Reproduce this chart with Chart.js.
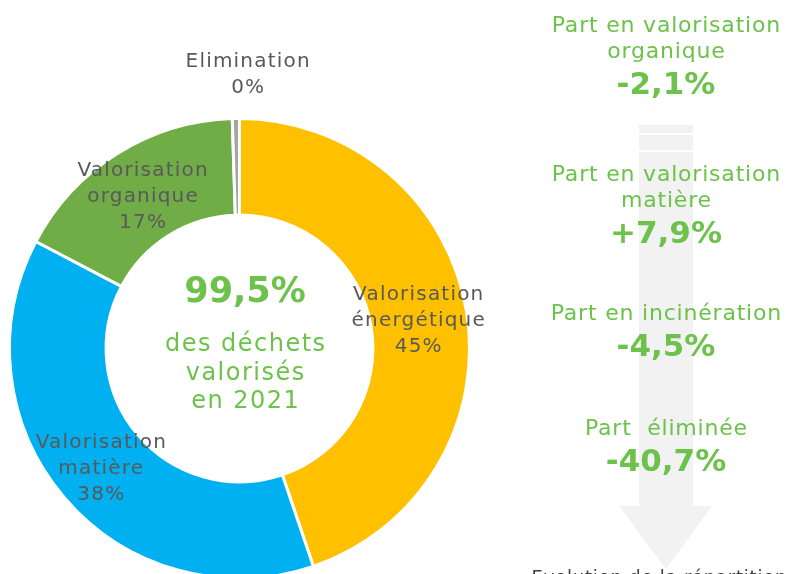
<!DOCTYPE html>
<html lang="fr">
<head>
<meta charset="utf-8">
<script src="https://cdn.jsdelivr.net/npm/chart.js@4.4.1/dist/chart.umd.min.js"></script>
<style>
  html, body { margin: 0; padding: 0; background: #fff; }
  body { width: 788px; height: 574px; position: relative; overflow: hidden; font-family: "DejaVu Sans", sans-serif; }
  #chart { position: absolute; left: 0; top: 0; }
  .t { position: absolute; transform: translateX(-50%); white-space: pre; text-align: center; color: #6cc24a; }
  .big { font-weight: 700; }
</style>
</head>
<body>
<!-- canvas a bit taller than the page : the ring is cut by the bottom edge -->
<canvas id="chart" width="788" height="600"></canvas>
<div id="texts"></div>
<script>
// slices, clockwise from 12 o'clock
const categories = ['Valorisation énergétique', 'Valorisation matière', 'Valorisation organique', 'Elimination'];
const labelLines = [['Valorisation', 'énergétique'], ['Valorisation', 'matière'], ['Valorisation', 'organique'], ['Elimination']];
const shares = [44.8, 37.9, 16.8, 0.5];
const shareLabels = ['45%', '38%', '17%', '0%'];
const sliceColors = ['#ffc000', '#00b0f0', '#70ad47', '#a5a5a5'];

// centre of the ring
const centerLines = ['99,5%', 'des déchets', 'valorisés', 'en 2021'];

// right column : evolution of each share
const evoTitles = [['Part en valorisation', 'organique'], ['Part en valorisation', 'matière'], ['Part en incinération'], ['Part  éliminée']];
const evoValues = ['-2,1%', '+7,9%', '-4,5%', '-40,7%'];
const arrowCaption = 'Evolution de la répartition';

const LABEL_FONT = '20px "DejaVu Sans", sans-serif';
const LABEL_COLOR = '#595959';

// --- html text (centre + right column) ---
const box = document.getElementById('texts');
function addText(str, cx, cy, size, opts) {
    opts = opts || {};
    const d = document.createElement('div');
    d.className = 't' + (opts.bold ? ' big' : '');
    d.textContent = str;
    const lh = Math.round(size * 1.2);
    const sp = opts.spacing || 0;
    d.style.left = (cx + sp / 2) + 'px';
    d.style.top = (cy - lh / 2) + 'px';
    d.style.fontSize = size + 'px';
    d.style.lineHeight = lh + 'px';
    d.style.letterSpacing = sp + 'px';
    if (opts.color) d.style.color = opts.color;
    box.appendChild(d);
}

addText(centerLines[0], 245, 290, 35, { bold: true });
addText(centerLines[1], 245, 343, 24, { spacing: 1.5 });
addText(centerLines[2], 245, 372, 24, { spacing: 1.5 });
addText(centerLines[3], 245, 400, 24, { spacing: 1.5 });

const blockTops = [25, 174, 313, 428];
evoTitles.forEach((lines, i) => {
    let y = blockTops[i];
    lines.forEach(l => { addText(l, 666, y, 22, { spacing: 0.8 }); y += 26; });
    addText(evoValues[i], 666, y + 6, 31, { bold: true });
});
addText(arrowCaption, 659, 577, 18, { color: '#404040', spacing: 0.8 });

// --- background arrow behind the right column ---
const arrowPlugin = {
    id: 'arrow',
    beforeDraw(chart) {
        const ctx = chart.ctx;
        ctx.save();
        ctx.fillStyle = '#f2f2f2';
        // striped tail
        ctx.fillRect(639, 125, 54, 8);
        ctx.fillRect(639, 135, 54, 15);
        ctx.fillRect(639, 152, 54, 354);
        // head
        ctx.beginPath();
        ctx.moveTo(619, 506);
        ctx.lineTo(712, 506);
        ctx.lineTo(666, 569);
        ctx.closePath();
        ctx.fill();
        ctx.restore();
    }
};

// --- slice labels ---
const sliceLabelPlugin = {
    id: 'sliceLabels',
    afterDatasetsDraw(chart) {
        const ctx = chart.ctx;
        const arcs = chart.getDatasetMeta(0).data;
        ctx.save();
        ctx.font = LABEL_FONT;
        ctx.letterSpacing = '1.2px';
        ctx.fillStyle = LABEL_COLOR;
        ctx.textAlign = 'center';
        ctx.textBaseline = 'middle';
        const lh = 26;
        arcs.forEach((arc, i) => {
            const lines = labelLines[i].concat([shareLabels[i]]);
            let x, y;
            if (shares[i] < 3) {
                // tiny slice : label outside the ring
                const mid = (arc.startAngle + arc.endAngle) / 2;
                const r = arc.outerRadius + 44;
                x = arc.x + Math.cos(mid) * r + 13;
                y = arc.y + Math.sin(mid) * r;
            } else {
                const p = arc.tooltipPosition();
                x = p.x;
                y = p.y + 2;
            }
            const y0 = y - (lines.length - 1) * lh / 2;
            lines.forEach((l, k) => ctx.fillText(l, x, y0 + k * lh));
        });
        ctx.restore();
    }
};

new Chart(document.getElementById('chart'), {
    type: 'doughnut',
    data: {
        labels: categories,
        datasets: [{
            data: shares,
            backgroundColor: sliceColors,
            borderColor: '#ffffff',
            borderWidth: 3
        }]
    },
    options: {
        responsive: false,
        animation: false,
        cutout: '58%',
        layout: { padding: { left: 8, top: 117, right: 317, bottom: 20 } },
        plugins: {
            legend: { display: false },
            tooltip: { enabled: false }
        }
    },
    plugins: [arrowPlugin, sliceLabelPlugin]
});
</script>
</body>
</html>
